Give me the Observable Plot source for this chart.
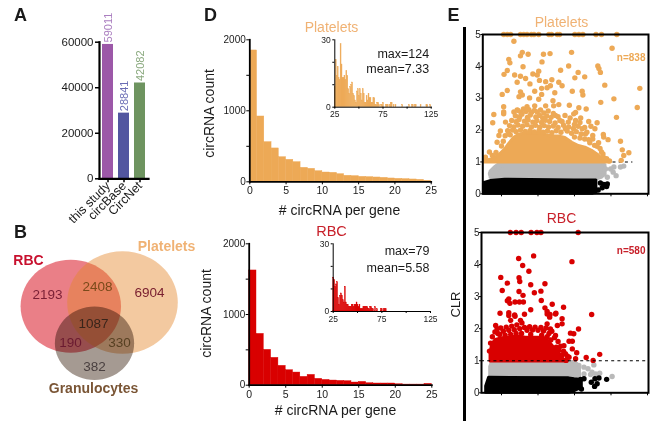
<!DOCTYPE html>
<html><head><meta charset="utf-8">
<script src="https://cdn.jsdelivr.net/npm/d3@7"></script>
<script src="https://cdn.jsdelivr.net/npm/@observablehq/plot@0.6"></script>
<style>html,body{margin:0;padding:0;background:#fff}#root{position:relative;width:657px;height:421px;overflow:hidden}</style>
</head><body><div id="root"></div>
<script>
// ---------- A: database totals
const dbNames = ["this study", "circBase", "CircNet"];
const dbTotals = [59011, 28841, 42082];
// ---------- B: Venn counts
const vennSets = ["RBC", "Platelets", "Granulocytes"];
const vennCounts = [2193, 2408, 6904, 1087, 190, 330, 382];
// ---------- D: histograms
const plateletBins = [1850,920,559,470,347,310,277,197,183,150,131,127,108,85,80,70,66,61,56,47,42,38,33,28,15];
const rbcBins = [1623,726,500,387,274,212,179,118,146,90,75,66,61,57,38,47,28,24,24,24,14,9,9,9,19];
const plateletTail = [9,21,14,18,13,12,28,19,13,13,14,12,16,14,8,6,9,10,11,6,5,3,2,7,8,5,8,6,3,8,6,2,2,5,3,6,4,4,2,2,4,4,1,1,2,2,1,0,1,1,2,0,0,1,1,1,0,1,2,2,0,1,0,1,0,0,0,0,0,0,1,0,0,0,0,0,0,1,0,0,1,1,0,1,1,0,0,0,0,1,0,0,0,0,0,1,1,0,0,1];
const rbcTail = [15,14,11,12,13,6,3,7,8,7,5,4,11,4,3,3,2,2,2,3,3,2,3,3,4,3,2,3,1,1,1,2,2,2,2,2,1,1,2,2,1,1,0,2,0,1,0,0,0,1,1,0,1,1,1];
const plateletStats = ["max=124", "mean=7.33"];
const rbcStats = ["max=79", "mean=5.58"];
// ---------- E: log10(expression), CLR
const plateletOutliers = [[-0.94,5],[-0.84,5],[-0.75,5],[-0.48,5],[-0.39,5],[-0.30,5],[-0.18,5],[-0.11,5],[0.02,5],[0.30,5],[0.37,5],[0.53,5],[0.59,5],[1.01,5],[1.12,5],[1.23,5],[1.59,5],[1.74,5],[2.16,5],
[-0.66,4.79],[2.03,4.57],[0.92,4.44],[0.33,4.40],[0.15,4.38],[-0.27,4.38],[-0.43,4.44],[-0.48,4.33],[-0.80,4.22],[-0.77,4.11],[0.11,4.14],[-0.41,3.99],[0.84,4.01],[1.64,4.01],[1.67,3.93],[0.62,3.88],[-0.84,3.87],[-0.93,3.75],[-0.64,3.73],[-0.48,3.69],[-0.34,3.62],[-0.14,3.76],[0.02,3.85],[-0.02,3.73],[1.71,3.81],[1.10,3.81],[1.01,3.64],[1.28,3.67],[-0.57,3.50],[-0.22,3.45],[0.04,3.56],[0.21,3.52],[0.38,3.58],[0.57,3.50],[0.66,3.39],[1.83,3.41],[2.79,3.31],[-0.84,3.24],[-0.98,3.12],[-0.48,3.20],[-0.43,3.10],[-0.09,3.22],[0.10,3.31],[0.25,3.33],[0.34,3.39],[0.46,3.17],[0.94,3.22],[1.21,3.22],[1.23,3.10],[2.08,2.98],[1.72,2.87],[2.72,2.71],[0.10,3.12],[-0.23,3.01],[-0.52,3.05],[0.02,2.97],[0.41,2.92],[0.86,2.78],[1.12,2.70],[1.32,2.66],[-0.94,2.73],[-1.21,2.49],[-0.94,2.57],[2.15,2.40],[1.03,2.55],[0.57,2.80],[0.21,2.76],[0.43,2.76],[-0.57,2.63],[-0.30,2.73],[-0.09,2.76],[-0.66,2.57],
[-1.24,2.23],[-1.03,1.97],[-1.07,1.83],[-1.12,1.62],[-1.33,1.31],[-1.44,1.15],[-0.89,2.25],[-0.94,2.51],[-0.8,1.88],[0.98,2.51],[1.03,2.30],[1.17,2.38],[1.39,2.27],[1.62,2.23],[1.56,2.04],[1.5,1.83],[1.79,1.86],[1.8,1.78],[1.92,1.7],[2.26,1.65],[2.31,1.38],[2.49,1.29],[2.35,1.2],[2.28,1.05],[1.96,1.03],[1.74,1.31],[1.62,1.49],[1.8,1.13],[1.3,1.88],[1.39,1.7],[1.21,2.04],[0.66,2.27],[0.75,2.04],[0.48,2.46],
[-0.55,2.62],[-0.47,2.56],[-0.4,2.66],[-0.33,2.58],[-0.25,2.64],[-0.18,2.55],[-0.1,2.62],[-0.02,2.57],[0.07,2.63],[0.16,2.54],[0.28,2.6],[0.42,2.52],
[-0.62,2.45],[-0.5,2.42],[-0.44,2.5],[-0.29,2.4],[-0.21,2.47],[-0.06,2.41],[0.04,2.46],[0.13,2.38],[0.24,2.44],[0.36,2.4],[0.55,2.42],[0.74,2.46],[0.88,2.38],
[-0.72,2.3],[-0.6,2.26],[-0.52,2.33],[-0.37,2.28],[-0.27,2.32],[-0.14,2.25],[-0.03,2.3],[0.1,2.24],[0.2,2.31],[0.32,2.27],[0.47,2.22],[0.6,2.3],[0.83,2.25],[1.0,2.18],[1.15,2.24],
[-0.78,2.14],[-0.66,2.1],[-0.55,2.16],[-0.42,2.12],[-0.3,2.17],[-0.18,2.1],[-0.07,2.15],[0.05,2.09],[0.17,2.14],[0.29,2.1],[0.42,2.13],[0.55,2.08],[0.7,2.15],[0.84,2.1],[0.97,2.05],[1.1,2.12],[1.28,2.08],[1.45,2.12],
[-0.83,1.98],[-0.7,2.0],[-0.6,1.95],[-0.48,2.0],[-0.35,1.96],[-0.22,1.98],[-0.1,1.94],[0.03,1.99],[0.14,1.93],[0.26,1.97],[0.38,1.92],[0.5,1.98],[0.63,1.93],[0.8,1.97],[0.92,1.9],[1.05,1.95],[1.18,1.88],[1.34,1.93],[1.5,1.72],[1.66,1.6],
[-0.9,1.82],[-0.76,1.85],[-0.95,1.65],[-1.0,1.5],[-1.15,1.3],[-1.25,1.2],[1.0,1.78],[1.15,1.75],[1.28,1.72],[1.42,1.6],[1.55,1.52],[1.7,1.42],[1.78,1.25],[1.88,1.1]];
const plateletMass = [[-1.48,0.98,1.03],[-1.26,0.98,1.08],[-1.07,0.98,1.2],[-0.89,0.98,1.4],[-0.8,0.98,1.55],[-0.66,0.98,1.75],[-0.52,0.98,1.85],[-0.34,0.98,1.9],[-0.16,0.98,1.9],[0.02,0.98,1.9],[0.21,0.98,1.85],[0.39,0.98,1.8],[0.57,0.98,1.8],[0.75,0.98,1.75],[0.94,0.98,1.6],[1.12,0.98,1.5],[1.3,0.98,1.45],[1.48,0.98,1.35],[1.67,0.98,1.2],[1.8,0.98,1.05],[1.94,0.98,1.0]];
const plateletGreyMass = [[-1.3,0.5,0.7],[-1.16,0.45,0.85],[-1.0,0.45,0.98],[1.6,0.45,0.98],[1.75,0.5,0.98],[1.85,0.6,0.9]];
const plateletGrey = [[-1.30,0.63],[-1.21,0.57],[-1.16,0.68],[-1.07,0.84],[-0.98,0.92],[1.80,0.63],[1.9,0.52],[2.08,0.84],[2.06,0.68],[2.14,0.57],[2.26,0.84],[2.35,0.87],[1.99,0.78],[1.85,0.78]];
const plateletBlackMass = [[-1.48,0,0.33],[-1.3,0,0.4],[-0.9,0,0.44],[1.0,0,0.42],[1.5,0,0.42],[1.6,0.05,0.42]];
const plateletBlack = [[1.71,0.34],[1.8,0.29],[1.9,0.31],[1.88,0.23],[1.76,0.19],[1.65,0.12],[1.56,0.07]];
const rbcOutliers = [[-0.76,5],[-0.6,5],[-0.46,5],[-0.19,5],[-0.03,5],[0.08,5],[1.10,5],
[-0.53,4.19],[-0.12,4.27],[0.93,4.09],[-0.42,3.97],[-0.25,3.79],[-1.02,3.60],[-0.52,3.59],[-0.5,3.47],[-0.84,3.42],[-0.2,3.37],[0.19,3.40],[-0.98,3.19],[-0.52,3.16],[-0.1,3.12],[0.08,3.17],[-0.41,3.04],[-0.8,2.93],[-0.84,2.87],[-0.77,2.79],[-0.63,2.83],[-0.51,2.83],[-0.4,2.83],[0.09,2.88],[0.39,2.76],[0.7,2.67],[-0.2,2.59],[0.19,2.65],[0.25,2.54],[0.49,2.48],[0.33,2.44],[-1.04,2.48],[-0.8,2.5],[-0.64,2.43],[-0.37,2.45],[1.47,2.44],
[-0.8,2.41],[-0.63,2.39],[-0.75,2.26],[-0.48,2.26],[-1.16,2.1],[-1.12,2.0],[0.25,2.46],[0.32,2.36],[0.48,2.46],[0.66,2.31],[0.25,2.15],[0.53,2.1],[0.66,2.15],[0.34,1.99],[0.48,1.79],[1.11,1.99],[0.89,1.86],[0.98,1.84],[0.85,1.61],[0.94,1.61],[0.71,1.47],[0.94,1.37],[1.06,1.25],[0.75,1.22],[0.85,1.11],[0.77,1.01],[1.03,1.06],[1.32,1.1],[1.51,1.01],[1.69,1.2],[0.57,1.32],
[-1.25,1.75],[-1.18,1.9],[-1.1,1.85],[-1.02,2.02],[-0.95,1.92],[-0.87,2.05],[-0.8,1.95],[-0.72,2.08],[-0.65,1.97],[-0.58,2.12],[-0.5,2.0],[-0.44,2.18],[-0.37,2.04],[-0.3,1.95],[-0.23,2.06],[-0.15,1.96],[-0.08,2.05],[0.0,1.95],[0.08,2.04],[0.15,1.93],[0.22,2.02],[0.3,1.85],[0.38,1.92],[0.45,1.72],[0.55,1.6],[0.62,1.45],[-1.3,1.55],[-1.33,1.3],[-1.05,1.82],[-0.9,1.8],[-0.75,1.82],[-0.6,1.85],[-0.45,1.85],[-0.2,1.82],[0.1,1.8],[0.25,1.75],[0.35,1.65],[0.7,1.3],[0.8,1.15],[0.5,1.42],[0.66,1.18]];
const rbcMass = [[-1.3,0.98,1.2],[-1.26,0.98,1.5],[-1.16,0.98,1.65],[-0.98,0.98,1.7],[-0.8,0.98,1.72],[-0.62,0.98,1.75],[-0.48,0.98,1.75],[-0.34,0.98,1.72],[-0.16,0.98,1.72],[0.02,0.98,1.72],[0.2,0.98,1.7],[0.34,0.98,1.55],[0.48,0.98,1.35],[0.62,0.98,1.15],[0.75,0.98,1.0]];
const rbcGreyMass = [[-1.31,0.47,0.8],[-1.25,0.47,0.98],[0.85,0.47,0.98],[1.0,0.47,0.95],[1.15,0.5,0.8]];
const rbcGrey = [[1.12,0.85],[1.26,0.8],[1.37,0.75],[1.48,0.64],[1.58,0.59],[1.69,0.61],[1.53,0.87],[2.03,0.51],[1.44,0.57],[1.26,0.59],[1.03,0.9]];
const rbcBlackMass = [[-1.42,0,0.2],[-1.34,0,0.47],[0.85,0,0.45],[1.0,0.05,0.42],[1.2,0.15,0.4]];
const rbcBlack = [[1.03,0.38],[1.17,0.42],[1.26,0.44],[1.12,0.23],[1.19,0.12],[0.98,0.12],[1.46,0.33],[1.56,0.44],[1.67,0.46],[1.62,0.28],[1.55,0.2],[1.88,0.42]];
const logTicks = [0.1, 1, 10, 100, 1000];
const logTickLabels = ["10⁻¹", "10⁰", "10¹", "10²", "10³"];

// ---------- layout and style, kept apart from the data
const FONT = "Liberation Sans";
const root = document.getElementById("root");
function place(opts) {
  root.append(Plot.plot({
    width: 657, height: 421,
    marginLeft: 0, marginRight: 0, marginTop: 0, marginBottom: 0,
    style: {background: "transparent", fontFamily: FONT, overflow: "visible", position: "absolute", left: "0", top: "0", maxWidth: "none"},
    ...opts
  }));
}
const label = (t, x, y, o = {}) => Plot.text([t], {text: d => d, frameAnchor: "top-left", dx: x, dy: y, lineAnchor: "middle", textAnchor: "middle", fill: "#1a1a1a", ...o});
const ORANGE = "#eda956", RED = "#d90000";

// A
const dbColors = ["#9c58a8", "#5256a0", "#6e9460"];
const dbLabelColors = ["#ab7fc0", "#6a6cb4", "#8aa97e"];
const dbRows = dbNames.map((name, i) => ({name, value: dbTotals[i], fill: dbColors[i], ink: dbLabelColors[i]}));
place({
  marginLeft: 99, marginRight: 509, marginTop: 41.7, marginBottom: 242.7,
  x: {domain: dbNames, paddingInner: 0.31, paddingOuter: 0.16},
  y: {domain: [0, 60000]},
  marks: [
    Plot.barY(dbRows, {x: "name", y: "value", fill: d => d.fill}),
    Plot.text(dbRows, {x: "name", y: "value", text: d => String(d.value), rotate: -90, textAnchor: "start", lineAnchor: "middle", dy: -2, fill: d => d.ink, fontSize: 11}),
    Plot.axisY({ticks: [0, 20000, 40000, 60000], tickFormat: d => String(d), label: null, tickSize: 4, strokeWidth: 1.5, fontSize: 11.5, tickPadding: 2, fill: "#1a1a1a"}),
    Plot.axisX({label: null, tickSize: 4, strokeWidth: 1.5, fontSize: 12.5, tickRotate: -45, textAnchor: "end", tickPadding: 1, fill: "#1a1a1a"}),
    Plot.frame({anchor: "left", strokeWidth: 2.2}),
    Plot.frame({anchor: "bottom", strokeWidth: 2.2})
  ]
});

// B
const ellipse = {draw(ctx, size) {
  const ry = Math.sqrt(size / Math.PI), rx = ry * 1.08, k = 0.5523;
  ctx.moveTo(rx, 0);
  ctx.bezierCurveTo(rx, k * ry, k * rx, ry, 0, ry);
  ctx.bezierCurveTo(-k * rx, ry, -rx, k * ry, -rx, 0);
  ctx.bezierCurveTo(-rx, -k * ry, -k * rx, -ry, 0, -ry);
  ctx.bezierCurveTo(k * rx, -ry, rx, -k * ry, rx, 0);
  ctx.closePath();
}};
const vennLayout = {cx: [70.3, 122, 94], cy: [90.8, 87, 127.7], r: [46.5, 51.2, 36.7]};
const countSpot = {x: [47, 97, 149, 93, 70, 119, 94], y: [79, 71, 77, 108, 127, 127, 151]};
const countInk = ["#7a1f35", "#7a4a1a", "#7a2030", "#38241a", "#6a1a30", "#574022", "#4a4040"];
const setSpot = {x: [28, 166, 93], y: [45, 31, 173]};
const setInk = ["#c8102e", "#f0b274", "#7a5535"];
const one = i => [i];
place({
  x: {domain: [0, 657], range: [0, 657], axis: null},
  y: {domain: [0, 421], range: [215, 636], axis: null},
  marks: [
    Plot.dot(one(0), {x: i => vennLayout.cx[i], y: i => vennLayout.cy[i], r: vennLayout.r[0], symbol: ellipse, fill: "#ea7f87"}),
    Plot.dot(one(1), {x: i => vennLayout.cx[i], y: i => vennLayout.cy[i], r: vennLayout.r[1], symbol: ellipse, fill: "rgb(228,135,44)", fillOpacity: 0.45}),
    Plot.dot(one(2), {x: i => vennLayout.cx[i], y: i => vennLayout.cy[i], r: vennLayout.r[2], symbol: ellipse, fill: "#a59a92", mixBlendMode: "multiply"}),
    Plot.text(vennCounts, {x: (d, i) => countSpot.x[i], y: (d, i) => countSpot.y[i], text: d => String(d), fill: (d, i) => countInk[i], fontSize: 13.5}),
    Plot.text(vennSets, {x: (d, i) => setSpot.x[i], y: (d, i) => setSpot.y[i], text: d => d, fill: (d, i) => setInk[i], fontWeight: "bold", fontSize: 14})
  ]
});

// D
function histogram(bins, color, m) {
  place({
    ...m,
    x: {domain: [0, 25]}, y: {domain: [0, 2000]},
    marks: [
      Plot.rectY(bins, {x1: (d, i) => i, x2: (d, i) => i + 1, y1: 0, y2: d => d, fill: color, stroke: color, strokeWidth: 0.4}),
      Plot.axisX({ticks: d3.range(0, 26, 5), label: null, tickSize: 3, fontSize: 10.5, tickPadding: 2, fill: "#1a1a1a"}),
      Plot.axisY({ticks: d3.range(0, 2001, 500), tickFormat: d => d % 1000 ? "" : String(d), label: null, tickSize: 3, fontSize: 10, tickPadding: 1, fill: "#1a1a1a"}),
      Plot.frame({anchor: "left", strokeWidth: 1.8}),
      Plot.frame({anchor: "bottom", strokeWidth: 1.8})
    ]
  });
}
function inset(bins, color, m) {
  place({
    ...m,
    x: {domain: [25, 125]}, y: {domain: [0, 30]},
    marks: [
      Plot.rectY(bins.map((v, i) => [i, v]).filter(d => d[1] > 0), {x1: d => 25 + d[0], x2: d => 26 + d[0], y1: 0, y2: d => d[1], fill: color, stroke: color, strokeWidth: 0.35}),
      Plot.axisX({ticks: [25, 50, 75, 100, 125], tickFormat: d => d % 50 === 25 ? String(d) : "", label: null, tickSize: 2, fontSize: 8.5, tickPadding: 2, fill: "#1a1a1a"}),
      Plot.axisY({ticks: [0, 10, 20, 30], tickFormat: d => d % 30 ? "" : String(d), label: null, tickSize: 2, fontSize: 8.5, tickPadding: 2, fill: "#1a1a1a"}),
      Plot.frame({anchor: "left", strokeWidth: 1}),
      Plot.frame({anchor: "bottom", strokeWidth: 1})
    ]
  });
}
histogram(plateletBins, ORANGE, {marginLeft: 249.3, marginRight: 226.3, marginTop: 39.3, marginBottom: 239.7});
histogram(rbcBins, RED, {marginLeft: 248.7, marginRight: 225.7, marginTop: 243.3, marginBottom: 36.3});
inset(plateletTail, ORANGE, {marginLeft: 334.3, marginRight: 226.3, marginTop: 39.3, marginBottom: 314.3});
inset(rbcTail, RED, {marginLeft: 332.7, marginRight: 227, marginTop: 243.3, marginBottom: 110});

// E
function scatter(s, m, xd, dashOnTop, dashEnd) {
  const X = d => 10 ** d[0];
  const band = (rows, fill) => Plot.areaY(rows, {x: X, y1: d => d[1], y2: d => d[2], fill, stroke: fill, strokeWidth: 3, strokeLinejoin: "round"});
  const pts = (rows, fill) => Plot.dot(rows, {x: X, y: d => d[1], r: 2.7, fill});
  const dash = Plot.ruleY([1], {x1: 10 ** xd[0], x2: 10 ** dashEnd, stroke: "#000", strokeWidth: 1.1, strokeDasharray: "3 3.2"});
  place({
    ...m,
    x: {type: "log", domain: [10 ** xd[0], 10 ** xd[1]]}, y: {domain: [0, 5]},
    marks: [
      dashOnTop ? null : dash,
      band(s.grey, "#b9b9b9"), pts(s.greyDots, "#b9b9b9"),
      band(s.black, "#000"), pts(s.blackDots, "#000"),
      band(s.mass, s.color), pts(s.dots, s.color),
      dashOnTop ? dash : null,
      Plot.frame({stroke: "#000", strokeWidth: 2}),
      Plot.axisX({ticks: logTicks, tickFormat: (d, i) => logTickLabels[i], label: null, tickSize: 3, fontSize: 10.5, tickPadding: 3, fill: "#1a1a1a"}),
      Plot.axisY({ticks: [0, 1, 2, 3, 4, 5], tickFormat: d => String(d), label: null, tickSize: 2, fontSize: 10, tickPadding: 0, fill: "#1a1a1a"})
    ]
  });
}
scatter({grey: plateletGreyMass, greyDots: plateletGrey, black: plateletBlackMass, blackDots: plateletBlack, mass: plateletMass, dots: plateletOutliers, color: ORANGE},
  {marginLeft: 482.3, marginRight: 9, marginTop: 34, marginBottom: 227.7}, [-1.512, 3.028], false, 2.6);
scatter({grey: rbcGreyMass, greyDots: rbcGrey, black: rbcBlackMass, blackDots: rbcBlack, mass: rbcMass, dots: rbcOutliers, color: RED},
  {marginLeft: 481, marginRight: 9, marginTop: 232, marginBottom: 28.7}, [-1.548, 3.027], true, 3.027);

// Annotations
place({marks: [
  label("A", 20, 15, {fontWeight: "bold", fontSize: 18}),
  label("B", 20, 232, {fontWeight: "bold", fontSize: 18}),
  label("D", 210, 15, {fontWeight: "bold", fontSize: 18}),
  label("E", 453, 15, {fontWeight: "bold", fontSize: 18}),
  label("Platelets", 331, 27, {fill: "#f0b274", fontSize: 14}),
  label("RBC", 331, 231, {fill: "#c8202a", fontSize: 14.5}),
  label("circRNA count", 209, 113, {rotate: -90, fontSize: 14}),
  label("circRNA count", 206, 313, {rotate: -90, fontSize: 14}),
  label("# circRNA per gene", 339, 210, {fontSize: 14}),
  label("# circRNA per gene", 335, 410, {fontSize: 14}),
  label(plateletStats[0], 428.7, 53, {textAnchor: "end", fontSize: 12.5}),
  label(plateletStats[1], 428.7, 68, {textAnchor: "end", fontSize: 12.5}),
  label(rbcStats[0], 429, 250, {textAnchor: "end", fontSize: 12.5}),
  label(rbcStats[1], 429, 267, {textAnchor: "end", fontSize: 12.5}),
  label("Platelets", 561, 22, {fill: "#f0b274", fontSize: 14}),
  label("RBC", 561, 218, {fill: "#c8202a", fontSize: 14}),
  label("n=838", 645, 57, {textAnchor: "end", fill: "#eda956", fontWeight: "bold", fontSize: 10}),
  label("n=580", 645, 250, {textAnchor: "end", fill: "#c8202a", fontWeight: "bold", fontSize: 10}),
  label("CLR", 455, 304, {rotate: -90, fontSize: 13})
]});
place({marginLeft: 464, marginRight: 191, marginTop: 28, marks: [Plot.frame({anchor: "left", strokeWidth: 3})]});
</script></body></html>
